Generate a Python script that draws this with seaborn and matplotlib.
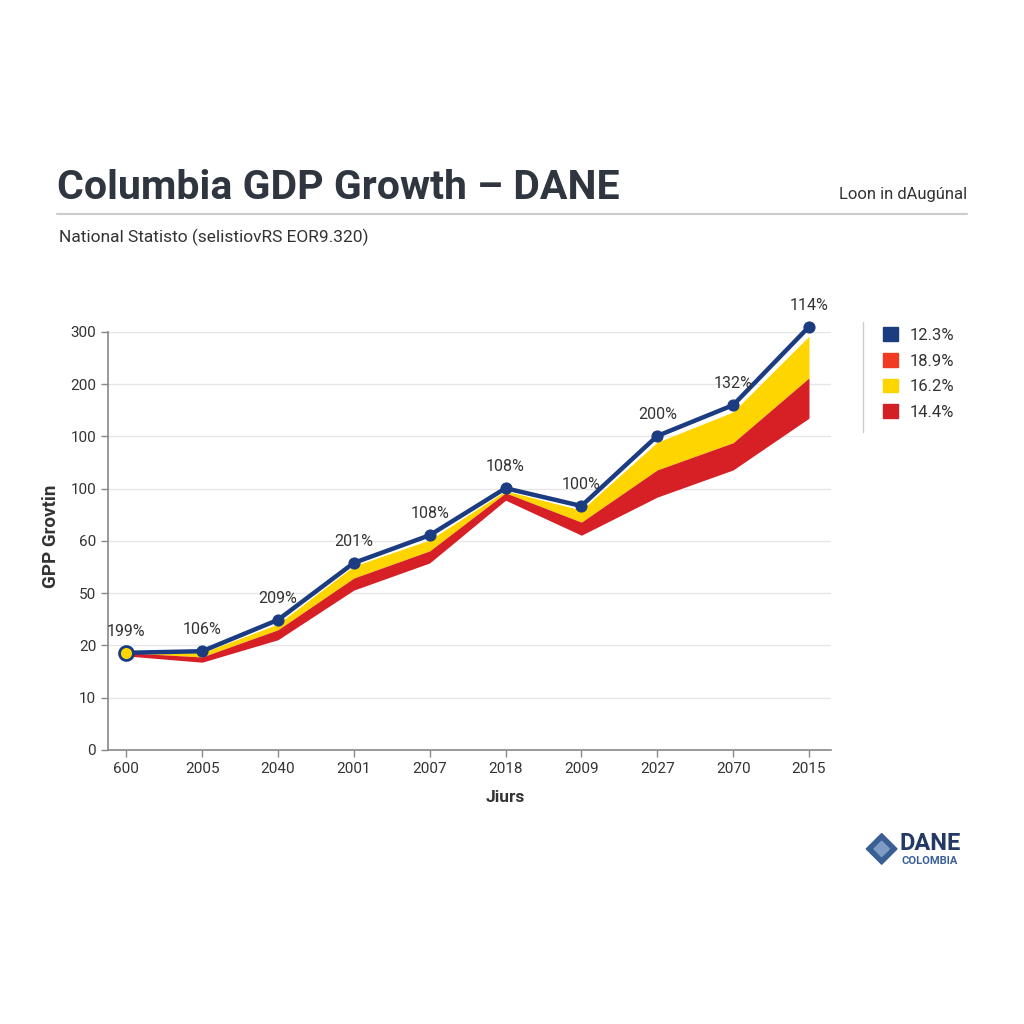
import matplotlib.pyplot as plt
import matplotlib.patches as mpatches
from matplotlib.lines import Line2D
import seaborn as sns
import pandas as pd

# Category labels and tick labels
years = ["600", "2005", "2040", "2001", "2007", "2018", "2009", "2027", "2070", "2015"]
ytick_labels = ["0", "10", "20", "50", "60", "100", "100", "200", "300"]

# Values in tick-slot units (the y axis ticks are evenly spaced)
blue_line = [1.86, 1.89, 2.49, 3.58, 4.11, 5.01, 4.67, 6.01, 6.60, 8.10]
yellow_top = [1.88, 1.86, 2.41, 3.52, 4.02, 4.96, 4.59, 5.89, 6.47, 7.92]
red_top = [1.86, 1.78, 2.30, 3.29, 3.81, 4.92, 4.36, 5.36, 5.88, 7.12]
red_bottom = [1.80, 1.68, 2.11, 3.06, 3.58, 4.78, 4.11, 4.84, 5.36, 6.35]
point_labels = ["199%", "106%", "209%", "201%", "108%", "108%", "100%", "200%", "132%", "114%"]

legend_labels = ["12.3%", "18.9%", "16.2%", "14.4%"]
legend_colors = ["#1b3c80", "#f03a24", "#ffd500", "#d31f26"]

navy = "#1b3c80"
yellow = "#ffd500"
red = "#d71f26"

sns.set_theme(style="white")
plt.rcParams['font.family'] = ['Roboto', 'DejaVu Sans']

fig = plt.figure(figsize=(10.24, 10.24), dpi=100)
fig.patch.set_facecolor("white")
ax = fig.add_axes([0.1055, 0.2676, 0.706, 0.4082])

df = pd.DataFrame({"x": range(len(years)), "gdp": blue_line})

ax.fill_between(df["x"], red_top, yellow_top, color=yellow, lw=0, zorder=2)
ax.fill_between(df["x"], red_bottom, red_top, color=red, lw=0, zorder=2)
sns.lineplot(data=df, x="x", y="gdp", ax=ax, color=navy, lw=3.2, zorder=3,
             marker="o", markersize=8, markeredgecolor=navy, markerfacecolor=navy)
# first point highlighted in yellow
ax.plot(df["x"][:1], df["gdp"][:1], "o", ms=10, mfc=yellow, mec=navy, mew=2, zorder=4)
for ln in ax.lines:
    ln.set_clip_on(False)

for x, y, lab in zip(df["x"], df["gdp"], point_labels):
    ax.annotate(lab, (x, y), xytext=(0, 10), textcoords="offset points",
                ha="center", va="bottom", fontsize=11.5, color="#333333",
                annotation_clip=False)

ax.set_xlim(-0.24, 9.29)
ax.set_ylim(0, 8)
ax.set_xticks(range(len(years)))
ax.set_xticklabels(years)
ax.set_yticks(range(len(ytick_labels)))
ax.set_yticklabels(ytick_labels)
ax.tick_params(axis="both", labelsize=11, colors="#333333", length=5, width=1,
               direction="out", bottom=True, left=True, color="#888888")
ax.grid(axis="y", color="#e6e6e6", lw=1)
ax.set_axisbelow(True)
for side in ["top", "right"]:
    ax.spines[side].set_visible(False)
for side in ["left", "bottom"]:
    ax.spines[side].set_color("#888888")
    ax.spines[side].set_linewidth(1.2)

ax.set_xlabel("Jiurs", fontsize=12.5, fontweight="bold", color="#333333")
ax.xaxis.set_label_coords(0.549, -0.095)
ax.set_ylabel("GPP Grovtin", fontsize=13.5, fontweight="bold", color="#333333")
ax.yaxis.set_label_coords(-0.066, 0.51)

# Title block
fig.text(0.056, 0.816, "Columbia GDP Growth – DANE", fontsize=29.5, fontweight="bold",
         color="#2f3640", va="center", ha="left")
fig.text(0.944, 0.810, "Loon in dAugúnal", fontsize=12, color="#333333", va="center", ha="right")
fig.add_artist(Line2D([0.056, 0.944], [0.791, 0.791], color="#cccccc", lw=1.5))
fig.text(0.058, 0.768, "National Statisto (selistiovRS EOR9.320)", fontsize=12.5,
         color="#333333", va="center", ha="left")

# Legend
handles = [mpatches.Patch(color=c, label=l) for c, l in zip(legend_colors, legend_labels)]
fig.legend(handles=handles, loc="upper left", bbox_to_anchor=(0.848, 0.695), frameon=False,
           fontsize=12, handlelength=0.9, handleheight=0.9, labelspacing=0.6,
           handletextpad=0.7, labelcolor="#333333")
fig.add_artist(Line2D([0.843, 0.843], [0.578, 0.686], color="#cccccc", lw=1))

# DANE logo
fig.add_artist(mpatches.RegularPolygon((0.861, 0.171), numVertices=4, radius=0.015,
                                       orientation=0, color="#3a5f95", transform=fig.transFigure))
fig.add_artist(mpatches.RegularPolygon((0.861, 0.171), numVertices=4, radius=0.0075,
                                       orientation=0, color="#7f9cc4", transform=fig.transFigure))
fig.text(0.878, 0.176, "DANE", fontsize=17, fontweight="bold", color="#233a66", va="center")
fig.text(0.880, 0.159, "COLOMBIA", fontsize=8, fontweight="bold", color="#3a5f95", va="center")

fig.savefig("out.png", dpi=100, facecolor="white")
